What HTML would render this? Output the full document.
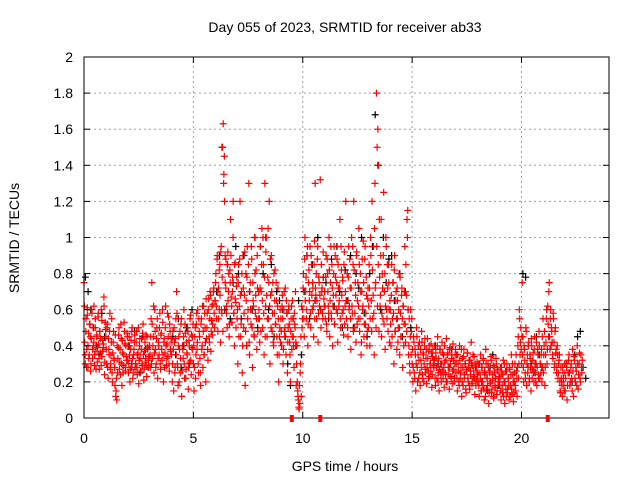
<!DOCTYPE html>
<html><head><meta charset="utf-8"><style>
body{margin:0;background:#fff}
svg{display:block;font-family:"Liberation Sans",sans-serif}
</style></head><body>
<svg id="chart" width="640" height="480">
<text x="345" y="32" font-size="14" text-anchor="middle">Day 055 of 2023, SRMTID for receiver ab33</text>
<text x="345" y="471" font-size="14" text-anchor="middle">GPS time / hours</text>
<text transform="translate(19,238) rotate(-90)" font-size="14" text-anchor="middle">SRMTID / TECUs</text>
<g id="grid"></g>
<g id="black"></g>
<g id="red"></g>
<g id="axes"></g>
</svg>
<script>
const xTicks=[0,5,10,15,20];
const yTicks=[0,0.2,0.4,0.6,0.8,1,1.2,1.4,1.6,1.8,2];
const yTickLabels=["0","0.2","0.4","0.6","0.8","1","1.2","1.4","1.6","1.8","2"];
const redHours=[0,1,2,3,4,5,6,7,8,9,10,11,12,13,14,15,16,17,18,19,20,21,22];
const redSpan=[1,1,1,1,1,1,1,1,1,1,1,1,1,1,1,1,1,1,1,1,1,1,0.8];
const redVals=[
[75,42,30,55,38,61,28,47,35,52,26,44,58,33,40,62,29,50,37,45,31,56,41,27,48,36,60,34,43,39,67,24,53],
[45,30,52,22,38,48,27,35,55,20,42,33,28,46,15,10,25,39,50,31,24,44,18,36,29,53,41,26,34,47],
[32,25,45,20,38,28,50,22,35,42,27,30,48,24,36,19,40,33,26,44,29,52,21,37,31,46,23,39,28,34],
[40,28,55,75,33,45,25,60,38,30,50,22,42,35,58,27,47,32,53,20,44,36,62,29,41,34,56,26,48,37],
[35,20,48,15,42,28,55,70,30,18,45,38,25,52,12,40,33,60,22,47,27,36,50,16,43,31,57,24,39,45],
[30,15,45,22,52,38,60,25,48,33,18,55,40,28,62,35,50,20,44,58,32,66,42,70,37,54,46,63,72,50],
[65,80,55,90,48,72,60,85,42,95,58,150,163,135,120,75,88,62,50,92,70,45,82,110,67,53,78,120,58,40,86,64,73],
[55,30,85,62,120,45,70,25,90,50,68,18,80,40,95,60,130,35,75,52,88,28,65,46,100,58,82,38,72,55],
[60,42,95,70,105,50,85,35,130,62,100,45,78,55,120,30,68,90,48,75,40,58,82,52,65,35,72,20,45,60],
[55,40,68,30,60,48,72,35,58,25,50,62,42,20,55,38,65,45,28,52,70,18,40,15,10,5,8,30,12,50],
[60,80,45,100,70,55,90,40,75,65,95,50,85,60,72,45,98,130,68,55,88,42,78,62,132,50,70,58,92,66],
[70,55,90,48,80,62,100,45,75,58,85,40,68,95,52,78,60,88,42,72,65,110,50,82,58,76,46,92,62,120],
[55,80,45,95,62,72,38,100,58,85,120,50,75,42,92,65,55,105,48,80,35,70,60,98,45,88,52,78,40,66],
[50,85,40,100,65,120,55,95,35,130,75,180,150,160,140,110,62,90,45,80,55,125,70,38,100,60,85,48,75,42],
[60,40,85,55,75,30,90,48,70,38,65,50,80,35,58,45,72,28,62,52,95,42,68,110,115,35,55,25,60,48],
[30,20,45,25,38,15,50,28,35,22,42,18,32,48,24,36,20,40,27,33,19,44,26,37,23,30,41,17,34,29],
[28,40,18,33,22,45,25,15,38,30,20,42,26,35,17,31,24,44,20,36,28,16,39,23,33,19,41,27,22,35],
[25,35,15,30,20,40,22,28,12,33,18,38,24,30,14,27,36,20,32,16,26,42,19,29,23,34,13,28,21,31],
[20,30,12,25,35,15,28,18,32,10,24,38,16,22,30,8,26,19,34,14,21,29,11,25,17,33,13,27,20,23],
[18,28,10,25,14,32,20,8,26,12,30,16,22,10,27,18,35,13,24,9,20,30,15,26,12,40,22,60,35,50],
[30,75,45,20,38,25,50,18,35,28,42,22,33,15,40,27,36,20,45,25,30,18,38,24,48,22,30,35,20,28],
[25,40,18,35,55,30,62,45,75,38,60,50,42,33,55,28,48,36,25,40,22,30,35,15,28,20,12,25,18,30],
[15,30,10,25,35,18,28,22,38,12,32,20,26,40,16,30,22,35,25]
];
const redVals2=[
[62,35,48,28,57,40,33,52,45,30,60,38,50,42,35,55,27,46,39,58,33,48,44,29,54,37,41,62,31,49],
[38,50,28,44,35,58,30,42,25,36,48,32,18,12,22,40,33,46,27,38,52,30,43,25,35,48,28,40,32,45],
[40,30,35,27,43,48,33,25,38,46,30,42,28,35,50,32,44,26,38,30,47,35,27,42,33,29,45,38,32,40],
[35,45,30,52,40,62,36,48,28,44,55,33,40,50,30,46,38,60,35,42,28,50,40,33,58,45,30,52,38,44],
[42,30,38,50,25,44,35,58,28,40,20,48,33,55,26,38,45,30,52,22,42,35,48,28,40,55,32,46,38,52],
[40,28,50,35,58,42,30,55,45,25,52,38,62,48,35,58,42,66,50,38,60,45,55,68,48,62,52,70,58,65],
[75,62,88,70,55,82,68,92,60,78,48,130,145,90,72,58,85,65,80,52,75,90,62,70,100,58,85,66,50,78],
[60,75,45,88,68,52,80,40,72,58,92,48,65,78,55,85,42,70,60,95,50,75,62,45,80,68,55,90,48,70],
[55,72,48,85,65,100,58,78,45,92,68,55,105,75,62,88,50,70,58,42,80,65,52,75,45,62,55,35,50,42],
[48,62,55,38,70,50,45,65,58,42,60,52,35,48,62,45,55,40,58,50,42,30,20,12,6,18,25,45,62,55],
[72,55,88,65,78,60,95,52,82,70,58,90,68,75,62,85,55,72,80,65,95,58,75,68,60,85,72,55,78,62],
[62,78,52,88,70,58,82,65,95,55,72,62,80,52,90,68,75,58,85,62,72,55,95,68,78,60,85,52,70,65],
[65,50,78,60,88,55,72,62,95,48,82,58,68,90,52,75,62,85,55,70,42,88,62,75,52,95,58,68,48,72],
[62,72,55,90,48,82,68,58,105,72,50,95,62,85,48,78,68,110,58,72,90,52,80,62,95,55,72,85,60,65],
[52,68,45,75,58,82,48,65,55,72,42,60,50,78,45,68,55,62,40,70,52,85,48,100,60,40,30,45,35,55],
[38,28,42,22,35,30,45,20,40,32,25,38,28,42,22,35,30,44,25,38,28,33,22,40,30,26,36,24,38,32],
[32,22,36,28,40,20,33,27,38,24,30,36,22,28,40,25,32,20,35,28,24,38,30,22,35,26,32,20,30,38],
[30,22,35,26,18,32,25,38,20,28,34,22,30,16,26,36,22,28,18,32,24,30,20,35,26,22,30,18,28,24],
[25,18,30,22,15,28,20,33,16,26,12,30,22,18,28,14,25,20,32,16,24,12,28,18,22,30,15,26,20,18],
[22,15,28,18,24,12,30,20,16,26,14,22,18,28,12,24,16,30,20,14,25,18,35,22,28,45,30,55,42,38],
[45,35,28,40,32,22,48,30,25,40,20,35,28,44,22,32,26,38,30,20,42,28,35,22,40,30,25,38,45,55],
[35,48,28,42,60,38,52,70,45,55,40,48,35,58,42,30,50,38,28,35,25,32,20,14,22,18,28,22,15,25],
[22,28,18,32,25,20,30,15,26,34,22,28,18,30,24,36,20,28,32]
];
const blackHours=[0,2,4,6,7,8,9,10,11,12,13,14,16,18,20,22];
const blackVals=[
[78,70,60,50,40,35,58,45],[40,30,48,35,25,45,38,28],[45,35,55,28,40,50,30,60],
[70,90,150,60,85,55,75,95],[80,55,90,40,70,60,100,50],[95,80,100,60,85,45,70,65],
[60,45,30,18,55,40,65,35],[70,90,55,85,65,100,60,78],[75,55,88,62,95,70,50,82],
[65,90,50,80,72,100,58,45],[80,95,168,140,60,100,75,88],[90,65,55,80,45,70,60,50],
[40,30,25,35,20,28,38,22],[30,20,25,15,28,35,22,18],[80,78,40,30,25,45,35,28],[30,25,20,35,45,48,28,22]
];
const flagHours=[9.5,10.8,21.2];
const X0=84,X1=609,Y0=418,Y1=57;
const xs=h=>X0+h*(X1-X0)/24;
const ys=v=>Y0-v*(Y0-Y1)/2;
const NS="http://www.w3.org/2000/svg";
function mk(tag,attrs,parent){const e=document.createElementNS(NS,tag);for(const k in attrs)e.setAttribute(k,attrs[k]);parent.appendChild(e);return e;}
const grid=document.getElementById('grid'),axes=document.getElementById('axes');
yTicks.forEach((v,i)=>{
  const y=ys(v);
  if(v>0&&v<2){const g=mk('line',{x1:X0,x2:X1,y1:y,y2:y,stroke:'#a0a0a0','stroke-dasharray':'2,3'},grid);
  
  }
  mk('line',{x1:X0,x2:X0+6,y1:y,y2:y,stroke:'#000'},axes);
  mk('line',{x1:X1,x2:X1-6,y1:y,y2:y,stroke:'#000'},axes);
  const t=mk('text',{x:X0-11,y:y+5,'font-size':14,'text-anchor':'end'},axes);t.textContent=yTickLabels[i];
  
  
});
xTicks.forEach(h=>{
  const x=xs(h);
  if(h>0){const g=mk('line',{x1:x,x2:x,y1:Y0,y2:Y1,stroke:'#a0a0a0','stroke-dasharray':'2,3'},grid);
  
  }
  mk('line',{x1:x,x2:x,y1:Y0,y2:Y0-6,stroke:'#000'},axes);
  mk('line',{x1:x,x2:x,y1:Y1,y2:Y1+6,stroke:'#000'},axes);
  const t=mk('text',{x:x,y:Y0+25,'font-size':14,'text-anchor':'middle'},axes);t.textContent=String(h);
  
  
});
const fr=mk('rect',{x:X0,y:Y1,width:X1-X0,height:Y0-Y1,fill:'none',stroke:'#000'},axes);


function plus(x,y,col,parent,name){
  const p=mk('path',{d:`M${x-3.5},${y}h7M${x},${y-3.5}v7`,stroke:col,'stroke-width':1.2,fill:'none'},parent);
  
  
}
const black=document.getElementById('black'),red=document.getElementById('red');
blackHours.forEach((h,i)=>{const a=blackVals[i];a.forEach((v,j)=>plus(xs(h+(j+0.5)/a.length),ys(v/100),'#000',black,'black-point'));});
redHours.forEach((h,i)=>{const a=redVals[i];a.forEach((v,j)=>plus(xs(h+redSpan[i]*j/a.length),ys(v/100),'#f00',red,'red-point'));});
redHours.forEach((h,i)=>{const a=redVals2[i];a.forEach((v,j)=>plus(xs(h+redSpan[i]*(j+0.5)/a.length),ys(v/100),'#f00',red,'red-point'));});
flagHours.forEach(h=>{const r=mk('rect',{x:xs(h)-2,y:Y0-3,width:4,height:7,fill:'#f00'},axes);

});
</script>
</body></html>
